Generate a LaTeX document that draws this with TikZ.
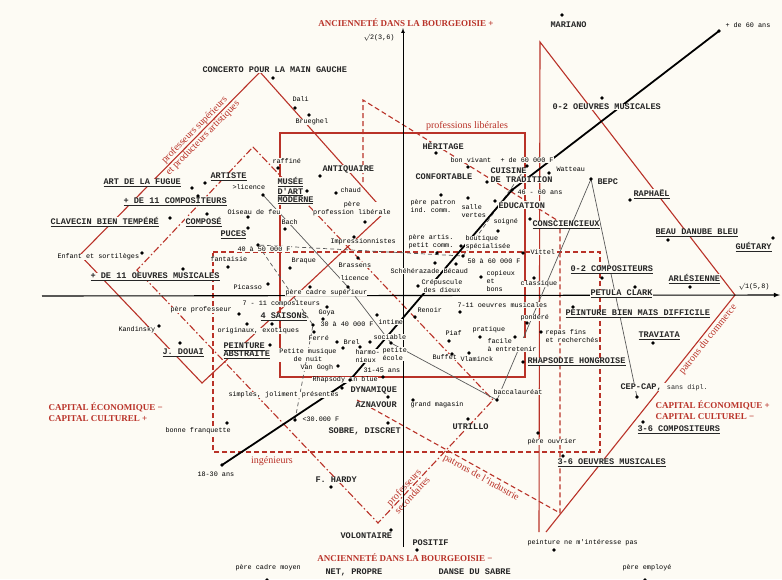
\documentclass[tikz,border=0pt]{standalone}
\usepackage{fontspec}
\setmainfont{Liberation Serif}
\setmonofont{Liberation Mono}
\usepackage{tikz}
\definecolor{brick}{RGB}{185,50,40}
\definecolor{paper}{RGB}{253,251,244}

\begin{document}
\begin{tikzpicture}[x=1pt,y=-1pt]
   \tikzstyle{lab}=[font=\ttfamily\fontsize{6.8}{8}\selectfont, fill=paper, inner sep=0.3pt, anchor=west, align=left]
   \tikzstyle{majus}=[font=\ttfamily\bfseries\fontsize{8.6}{9}\selectfont, text=black!85, fill=paper, inner sep=0.3pt, anchor=west, align=left]
   \tikzstyle{dot}=[circle, fill=black, inner sep=0pt, minimum size=3.8pt]
   \tikzstyle{axe}=[font=\rmfamily\bfseries\fontsize{9}{11}\selectfont, text=brick, inner sep=0.5pt, fill=paper]
   \tikzstyle{frac}=[font=\rmfamily\fontsize{10}{11.5}\selectfont, text=brick, inner sep=1pt]
   \tikzstyle{solide}=[draw=brick, line width=1.1pt]
   \tikzstyle{tirets}=[draw=brick, line width=1.1pt, dash pattern=on 5pt off 3pt]
   \tikzstyle{mixte}=[draw=brick, line width=1.1pt, dash pattern=on 7pt off 2.5pt on 1.5pt off 2.5pt]
   \tikzstyle{ligne}=[draw=black!65, line width=0.7pt]

\useasboundingbox (0,0) rectangle (782,579);
\fill[paper] (0,0) rectangle (782,579);

\coordinate (psT) at (260,72);
\coordinate (psR) at (385,212);
\coordinate (psB) at (202,383);
\coordinate (psL) at (80,255);
\coordinate (plA) at (280,133);
\coordinate (plB) at (525,133);
\coordinate (plC) at (525,377);
\coordinate (plD) at (280,377);
\coordinate (pcT) at (540,42);
\coordinate (pcR) at (735,295);
\coordinate (pcB) at (546,532);
\coordinate (pcV) at (539,532);
\coordinate (inA) at (213,252);
\coordinate (inB) at (600,252);
\coordinate (inC) at (600,452);
\coordinate (inD) at (213,452);
\coordinate (psecT) at (253,147);
\coordinate (psecR) at (493,400);
\coordinate (psecB) at (378,523);
\coordinate (psecL) at (137,270);
\coordinate (piE) at (363,182);
\coordinate (piA) at (363,100);
\coordinate (piB) at (560,222);
\coordinate (piC) at (560,513);
\coordinate (piD) at (357,400);

\draw[solide] (psT) -- (psR) -- (psB) -- (psL) -- cycle;
\path (psL) -- (psT) node[frac, sloped, pos=0.66, align=center] (profSup) {professeurs supérieurs\\et producteurs artistiques};
\draw[solide] (plA) -- (plB) -- (plC) -- (plD) -- cycle;
\node[frac] (plib) at (467,126) {professions libérales};
\draw[solide] (pcV) -- (pcT) -- (pcR) -- (pcB);
\path (pcB) -- (pcR) node[frac, sloped, pos=0.83, below=1pt] (patCom) {patrons du commerce};
\draw[tirets] (inA) -- (inB) -- (inC) -- (inD) -- cycle;
\node[frac] (ing) at (272,461) {ingénieurs};
\draw[mixte] (psecT) -- (psecR) -- (psecB) -- (psecL) -- cycle;
\path (psecB) -- (psecR) node[frac, sloped, pos=0.26, align=center] (profSec) {professeurs\\secondaires};
\draw[tirets] (piE) -- (piA) -- (piB) -- (piC) -- (piD);
\path (piD) -- (piC) node[frac, sloped, pos=0.63, below=2pt] (patInd) {patrons de l'industrie};

\draw[line width=0.7pt, -latex] (403,547) -- (403,28);
\draw[line width=1.1pt, -latex] (42,296) -- (780,295);

\node[axe] (ancP) at (406,23) {ANCIENNETÉ DANS LA BOURGEOISIE +};
\node[axe] (ancM) at (405,558) {ANCIENNETÉ DANS LA BOURGEOISIE −};
\node[axe, anchor=west, align=left] (capG) at (48,412) {CAPITAL ÉCONOMIQUE −\\CAPITAL CULTUREL +};
\node[axe, anchor=west, align=left] (capD) at (655,410) {CAPITAL ÉCONOMIQUE +\\CAPITAL CULTUREL −};

\coordinate (dLic1) at (263,195);
\coordinate (dLic) at (348,287);
\coordinate (dEcole) at (391,343);
\coordinate (dBac) at (497,400);
\coordinate (dBepc) at (591,179);
\coordinate (dCep) at (637,397);
\draw[ligne] (dLic1) -- (dLic) -- (dEcole) -- (dBac) -- (dBepc) -- (dCep);

\coordinate (dInc1) at (295,420);
\coordinate (dInc2) at (313,325);
\coordinate (dInc3) at (258,245);
\coordinate (dInc4) at (463,256);
\coordinate (dInc5) at (527,166);
\draw[ligne, dash pattern=on 4pt off 3pt] (dInc1) -- (dInc2) -- (dInc3) -- (dInc4) -- (dInc5);

\coordinate (dAge1) at (222,465);
\coordinate (dAge2) at (350,380);
\coordinate (dAge3) at (512,190);
\coordinate (dAge4) at (719,31);
\draw[line width=1.8pt] (dAge1) -- (dAge2) -- (dAge3) -- (dAge4);

\node[lab] (axeV) at (363,38) {\(\surd\)2(3,6)};
\node[lab] (axeH) at (738,287) {\(\surd\)1(5,8)};

\node[majus] (concerto) at (202,70) {CONCERTO POUR LA MAIN GAUCHE};
\node[lab] (dali) at (292,99) {Dali};
\node[lab] (bruegel) at (295,122) {Brueghel};
\node[majus] (mariano) at (550,25) {MARIANO};
\node[lab] (age4) at (725,25) {+ de 60 ans};
\node[majus] (oeuv02) at (552,107) {0-2 OEUVRES MUSICALES};
\node[majus] (heritage) at (422,146) {HÉRITAGE};
\node[lab] (vivant) at (450,160) {bon vivant};
\node[lab] (inc5) at (500,160) {+ de 60 000 F};
\node[lab] (raffine) at (272,161) {raffiné};
\node[majus] (antiq) at (322,169) {ANTIQUAIRE};
\node[majus] (confort) at (415,177) {CONFORTABLE};
\node[majus] (cuisine) at (490,171) {CUISINE};
\node[majus] (tradition) at (490,180) {DE TRADITION};
\node[lab] (watteau) at (556,169) {Watteau};
\node[majus] (artiste) at (210,177) {\underline{ARTISTE}};
\node[majus] (fugue) at (103,183) {\underline{ART DE LA FUGUE}};
\node[lab] (lic1) at (232,187) {>licence};
\node[majus, font=\ttfamily\bfseries\fontsize{8.6}{8}\selectfont] (musee) at (277,191) {\underline{MUSÉE}\\\underline{D'ART}\\\underline{MODERNE}};
\node[lab] (chaud) at (340,190) {chaud};
\node[lab] (age3) at (517,192) {46 - 60 ans};
\node[majus] (bepc) at (597,182) {BEPC};
\node[majus] (raphael) at (633,194) {\underline{RAPHAËL}};
\node[majus] (comp11) at (123,202) {\underline{+ DE 11 COMPOSITEURS}};
\node[lab, anchor=center, align=center] (pereLib) at (352,209) {père\\profession libérale};
\node[lab] (perePat) at (410,206) {père patron\\ind. comm.};
\node[lab] (salle) at (461,211) {salle\\vertes};
\node[majus] (educ) at (498,205) {ÉDUCATION};
\node[lab] (oiseau) at (227,212) {Oiseau de feu};
\node[majus] (clavecin) at (50,222) {\underline{CLAVECIN BIEN TEMPÉRÉ}};
\node[majus] (compose) at (185,222) {\underline{COMPOSÉ}};
\node[lab] (bach) at (281,222) {Bach};
\node[lab] (soigne) at (493,222) {soigné};
\node[majus] (conscien) at (532,225) {\underline{CONSCIENCIEUX}};
\node[majus] (danube) at (655,233) {\underline{BEAU DANUBE BLEU}};
\node[majus] (puces) at (220,235) {\underline{PUCES}};
\node[lab] (impress) at (330,242) {Impressionnistes};
\node[lab] (pereArt) at (408,242) {père artis.\\petit comm.};
\node[lab] (boutique) at (465,243) {boutique\\spécialisée};
\node[majus] (guetary) at (735,247) {\underline{GUÉTARY}};
\node[lab] (inc3) at (237,249) {40 à 50 000 F};
\node[lab] (vittel) at (530,252) {Vittel};
\node[lab] (enfant) at (57,257) {Enfant et sortilèges};
\node[lab] (fantaisie) at (210,259) {fantaisie};
\node[lab] (braque) at (291,261) {Braque};
\node[lab] (brassens) at (338,265) {Brassens};
\node[lab] (inc4) at (467,261) {50 à 60 000 F};
\node[majus] (comp02) at (570,270) {\underline{0-2 COMPOSITEURS}};
\node[lab] (schehe) at (390,271) {Schéhérazade};
\node[lab] (becaud) at (443,271) {Bécaud};
\node[lab] (copieux) at (486,281) {copieux\\et\\bons};
\node[lab] (classique) at (520,284) {classique};
\node[majus] (arles) at (668,279) {\underline{ARLÉSIENNE}};
\node[majus] (oeuv11) at (90,277) {\underline{+ DE 11 OEUVRES MUSICALES}};
\node[lab] (lic) at (340,278) {licence};
\node[lab, anchor=center, align=center] (crepus) at (442,286) {Crépuscule\\des dieux};
\node[lab] (picasso) at (233,287) {Picasso};
\node[lab] (pereSup) at (285,293) {père cadre supérieur};
\node[majus] (petula) at (590,294) {\underline{PETULA CLARK}};
\node[lab] (comp711) at (242,304) {7 - 11 compositeurs};
\node[lab] (oeuv711) at (457,305) {7-11 oeuvres musicales};
\node[lab] (renoir) at (417,310) {Renoir};
\node[lab] (perePro) at (170,310) {père professeur};
\node[majus] (difficile) at (565,314) {\underline{PEINTURE BIEN MAIS DIFFICILE}};
\node[lab] (goya) at (318,313) {Goya};
\node[majus] (saisons) at (260,317) {\underline{4 SAISONS}};
\node[lab] (pondere) at (520,318) {pondéré};
\node[lab] (intime) at (378,322) {intime};
\node[lab] (inc2) at (320,324) {30 à 40 000 F};
\node[lab] (origin) at (217,331) {originaux, exotiques};
\node[lab] (kandin) at (118,330) {Kandinsky};
\node[lab] (pratique) at (472,330) {pratique};
\node[lab] (piaf) at (445,333) {Piaf};
\node[lab] (repas) at (545,336) {repas fins\\et recherchés};
\node[majus] (traviata) at (638,336) {\underline{TRAVIATA}};
\node[lab] (ferre) at (308,338) {Ferré};
\node[lab] (sociable) at (373,337) {sociable};
\node[lab] (brel) at (343,342) {Brel};
\node[lab] (facile) at (487,345) {facile\\à entretenir};
\node[majus, font=\ttfamily\bfseries\fontsize{8.6}{8}\selectfont] (abstr) at (223,351) {\underline{PEINTURE}\\\underline{ABSTRAITE}};
\node[majus] (douai) at (162,353) {\underline{J. DOUAI}};
\node[lab, anchor=center, align=center] (petite) at (308,355) {Petite musique\\de nuit};
\node[lab] (harmo) at (355,356) {harmo-\\nieux};
\node[lab] (ecole) at (382,354) {petite\\école};
\node[lab] (buffet) at (432,357) {Buffet};
\node[lab] (vlaminck) at (460,359) {Vlaminck};
\node[majus] (rhapH) at (527,362) {\underline{RHAPSODIE HONGROISE}};
\node[lab] (vangogh) at (300,368) {Van Gogh};
\node[lab] (age2) at (363,370) {31-45 ans};
\node[lab] (rhapB) at (312,380) {Rhapsody in blue};
\node[majus] (cep) at (620,387) {CEP-CAP, {\mdseries\fontsize{6.8}{8}\selectfont sans dipl.}};
\node[majus] (dynam) at (350,390) {DYNAMIQUE};
\node[lab] (bac) at (493,392) {baccalauréat};
\node[lab] (simples) at (228,395) {simples, joliment présentés};
\node[majus] (aznav) at (355,405) {AZNAVOUR};
\node[lab] (magasin) at (410,405) {grand magasin};
\node[lab] (inc1) at (302,419) {<30.000 F};
\node[majus] (utrillo) at (452,427) {UTRILLO};
\node[majus] (sobre) at (328,431) {SOBRE, DISCRET};
\node[lab] (bonne) at (165,431) {bonne franquette};
\node[lab] (pereOuv) at (527,442) {père ouvrier};
\node[majus] (comp36) at (637,430) {\underline{3-6 COMPOSITEURS}};
\node[majus] (oeuv36) at (557,463) {\underline{3-6 OEUVRES MUSICALES}};
\node[lab] (age1) at (197,474) {18-30 ans};
\node[majus] (hardy) at (315,480) {F. HARDY};
\node[majus] (volont) at (340,536) {VOLONTAIRE};
\node[majus] (positif) at (412,543) {POSITIF};
\node[lab] (peinture) at (527,543) {peinture ne m'intéresse pas};
\node[lab] (pereMoy) at (235,568) {père cadre moyen};
\node[majus] (net) at (325,572) {NET, PROPRE};
\node[majus] (sabre) at (438,572) {DANSE DU SABRE};
\node[lab] (pereEmp) at (622,568) {père employé};

\foreach \p/\n in {273/78, 295/108, 309/115, 562/15, 719/31, 602/98, 436/153, 468/167, 527/166,
   278/168, 320/176, 487/182, 549/173, 205/183, 192/188, 263/195, 307/191, 336/193, 512/190,
   591/179, 630/200, 198/196, 365/222, 441/195, 468/198, 495/201, 248/217, 170/218, 207/214,
   285/229, 498/231, 530/219, 668/240, 248/228, 354/237, 437/253, 461/246, 773/238, 258/245,
   523/253, 142/253, 228/267, 290/268, 358/258, 463/256, 602/278, 435/263, 456/264, 481/277,
   534/278, 690/287, 183/269, 348/287, 418/286, 268/284, 310/287, 635/287, 327/307, 460/312,
   415/317, 239/314, 573/307, 323/319, 272/324, 527/323, 377/315, 313/325, 247/324, 159/326,
   480/337, 449/341, 541/332, 653/343, 314/332, 370/342, 337/342, 515/337, 270/345, 180/343,
   343/348, 360/347, 391/343, 452/354, 469/353, 523/362, 338/366, 350/380, 342/388, 637/397,
   383/377, 497/400, 388/397, 413/400, 295/420, 468/419, 388/423, 227/423, 538/433, 643/422,
   563/456, 222/465, 331/487, 391/530, 417/550, 554/550, 267/580, 645/580}
   \node[dot] (d-\p-\n) at (\p,\n) {};

\end{tikzpicture}
\end{document}
